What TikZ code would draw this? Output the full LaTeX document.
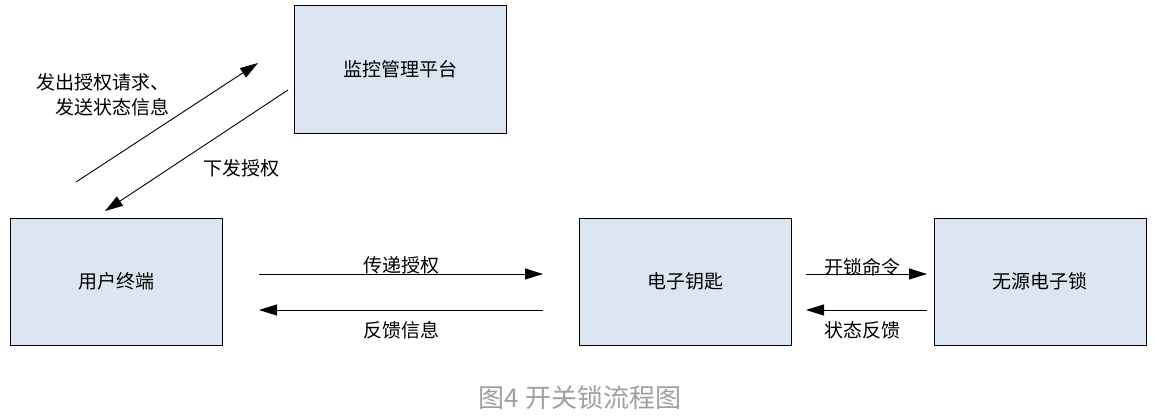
\documentclass[tikz,border=0pt]{standalone}
\usepackage{fontspec}
\setmainfont{Noto Sans CJK SC}
\newfontfamily\cjk{Noto Sans CJK SC}
\usetikzlibrary{arrows.meta}
\definecolor{boxfill}{HTML}{DCE6F2}
\definecolor{capgray}{HTML}{A0A0A0}
\tikzset{
  x=1pt, y=-1pt,
  blockbox/.style={draw=black, line width=1pt, fill=boxfill, minimum width=212pt, minimum height=127pt, inner sep=0pt, font=\cjk\fontsize{19}{21}\selectfont},
  flow/.style={draw=black, line width=0.9pt, -{Triangle[length=18pt,width=11pt]}},
  lbl/.style={font=\cjk\fontsize{19}{25}\selectfont, inner sep=0pt},
}
\begin{document}
\begin{tikzpicture}
\useasboundingbox (0,0) rectangle (1154,420);
\node[blockbox] (plat) at (400.5,69.5) {监控管理平台};
\node[blockbox] (user) at (116.5,281.5) {用户终端};
\node[blockbox] (key) at (685.5,281.5) {电子钥匙};
\node[blockbox] (lock) at (1040,281.5) {无源电子锁};

\coordinate (a1s) at (76,182);
\coordinate (a1e) at (258,63);
\coordinate (a2s) at (288,90);
\coordinate (a2e) at (105,211);
\draw[flow] (a1s) -- (a1e);
\draw[flow] (a2s) -- (a2e);

\coordinate (b1s) at (259,274);
\coordinate (b1e) at (543,274);
\coordinate (b2s) at (543,310);
\coordinate (b2e) at (259,310);
\draw[flow] (b1s) -- (b1e);
\draw[flow] (b2s) -- (b2e);

\coordinate (c1s) at (806,274);
\coordinate (c1e) at (927,274);
\coordinate (c2s) at (927,310);
\coordinate (c2e) at (806,310);
\draw[flow] (c1s) -- (c1e);
\draw[flow] (c2s) -- (c2e);

\node[lbl, align=right] (l1) at (103,95) {发出授权请求、\\发送状态信息};
\node[lbl] (l2) at (241,168) {下发授权};
\node[lbl] (l3) at (401,265) {传递授权};
\node[lbl] (l4) at (401,330) {反馈信息};
\node[lbl] (l5) at (862,267) {开锁命令};
\node[lbl] (l6) at (862,330) {状态反馈};

\node[font=\cjk\fontsize{26}{28}\selectfont, text=capgray, inner sep=0pt] (cap) at (580,398) {图4 开关锁流程图};
\end{tikzpicture}
\end{document}
